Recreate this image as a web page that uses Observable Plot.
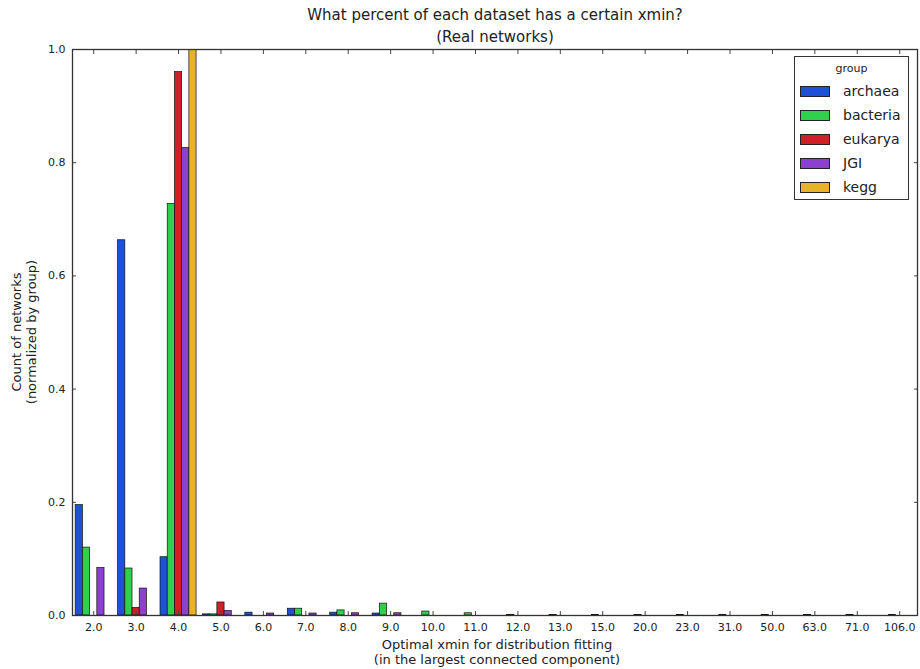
<!DOCTYPE html>
<html>
<head>
<meta charset="utf-8">
<script src="https://cdn.jsdelivr.net/npm/d3@7"></script>
<script src="https://cdn.jsdelivr.net/npm/@observablehq/plot@0.6"></script>
<style>
  body { margin: 0; background: #fff; }
  #wrap { position: relative; width: 920px; height: 669px; font-family: "DejaVu Sans", sans-serif; color: #222; }
  #wrap svg { position: absolute; left: 0; top: 0; }
  .ov { position: absolute; white-space: nowrap; text-align: center; }
  #title { left: 195px; width: 600px; top: 4px; font-size: 15px; line-height: 22px; }
  #xlabel { left: 297px; width: 400px; top: 637px; font-size: 13px; line-height: 15px; }
  #ylabel { left: 24px; top: 332px; width: 300px; font-size: 13px; line-height: 15px; transform: translate(-150px, -15px) rotate(-90deg); transform-origin: 150px 15px; }
  #legend { position: absolute; left: 794px; top: 56px; width: 115px; height: 144px; border: 1px solid #333; background: #fff; box-sizing: border-box; }
  #legend .lt { position: absolute; left: 0; width: 100%; top: 5px; text-align: center; font-size: 11px; }
  #legend .row { position: absolute; left: 5px; height: 14px; }
  #legend .sw { position: absolute; left: 0; top: 1px; width: 30px; height: 11px; border: 1px solid #222; box-sizing: border-box; }
  #legend .lab { position: absolute; left: 43px; top: -4px; font-size: 14px; line-height: 20px; }
</style>
</head>
<body>
<div id="wrap">
  <div id="title" class="ov">What percent of each dataset has a certain xmin?<br>(Real networks)</div>
  <div id="xlabel" class="ov">Optimal xmin for distribution fitting<br>(in the largest connected component)</div>
  <div id="ylabel" class="ov">Count of networks<br>(normalized by group)</div>
</div>
<script>
const categories = ["2.0","3.0","4.0","5.0","6.0","7.0","8.0","9.0","10.0","11.0","12.0","13.0","15.0","20.0","23.0","31.0","50.0","63.0","71.0","106.0"];
const groups = ["archaea","bacteria","eukarya","JGI","kegg"];
const colors = ["#1f50d8","#31cf4e","#d01f26","#8b40cf","#e6b426"];

const archaea  = [0.195, 0.663, 0.103, 0.002, 0.005, 0.012, 0.005, 0.0035, 0, 0, 0, 0, 0, 0, 0, 0, 0, 0, 0, 0];
const bacteria = [0.120, 0.083, 0.727, 0.002, 0, 0.012, 0.009, 0.021, 0.007, 0.004, 0.001, 0.001, 0.001, 0.001, 0.001, 0.001, 0.001, 0.001, 0.001, 0.001];
const eukarya  = [0, 0.0134, 0.960, 0.023, 0, 0, 0, 0, 0, 0, 0, 0, 0, 0, 0, 0, 0, 0, 0, 0];
const JGI      = [0.084, 0.0476, 0.826, 0.008, 0.0035, 0.0035, 0.004, 0.004, 0, 0, 0, 0, 0, 0, 0, 0, 0, 0, 0, 0];
const kegg     = [0, 0, 1.0, 0, 0, 0, 0, 0, 0, 0, 0, 0, 0, 0, 0, 0, 0, 0, 0, 0];
const yTicks = [0, 0.2, 0.4, 0.6, 0.8, 1.0];

const series = [archaea, bacteria, eukarya, JGI, kegg];
const groupWidth = 0.85;
const barW = groupWidth / groups.length;
const rows = [];
series.forEach((vals, gi) => {
  vals.forEach((v, ci) => {
    const x1 = ci - groupWidth / 2 + gi * barW;
    rows.push({category: categories[ci], group: groups[gi], value: v, x1, x2: x1 + barW});
  });
});

const idx = d3.range(categories.length);
const chart = Plot.plot({
  width: 920, height: 669,
  marginLeft: 72, marginRight: 3, marginTop: 49, marginBottom: 54,
  style: {fontFamily: "DejaVu Sans", fontSize: "11px", color: "#222", background: "transparent", overflow: "visible"},
  x: {type: "linear", domain: [-0.5, 19.42], axis: null},
  y: {domain: [0, 1], axis: null},
  color: {domain: groups, range: colors},
  marks: [
    Plot.rectY(rows, {x1: "x1", x2: "x2", y: "value", fill: "group", stroke: "#111", strokeWidth: 0.7, clip: true}),
    Plot.axisX({anchor: "bottom", ticks: idx, tickFormat: i => categories[i], tickSize: -4, tickPadding: 12, label: null, stroke: "#444"}),
    Plot.axisX({anchor: "top", ticks: idx, tickFormat: () => "", tickSize: -4, label: null, stroke: "#444"}),
    Plot.axisY({anchor: "left", ticks: yTicks, tickFormat: d3.format(".1f"), tickSize: -4, tickPadding: 11, label: null, stroke: "#444"}),
    Plot.axisY({anchor: "right", ticks: yTicks, tickFormat: () => "", tickSize: -4, label: null, stroke: "#444"}),
    Plot.frame({stroke: "#333", strokeWidth: 1.3})
  ]
});
const wrap = document.getElementById("wrap");
wrap.insertBefore(chart, wrap.firstChild);

const legend = document.createElement("div");
legend.id = "legend";
legend.innerHTML = `<div class="lt">group</div>` + groups.map((g, i) =>
  `<div class="row" style="top:${28 + i * 24}px"><div class="sw" style="background:${colors[i]}"></div><div class="lab">${g}</div></div>`
).join("");
wrap.appendChild(legend);
</script>
</body>
</html>
